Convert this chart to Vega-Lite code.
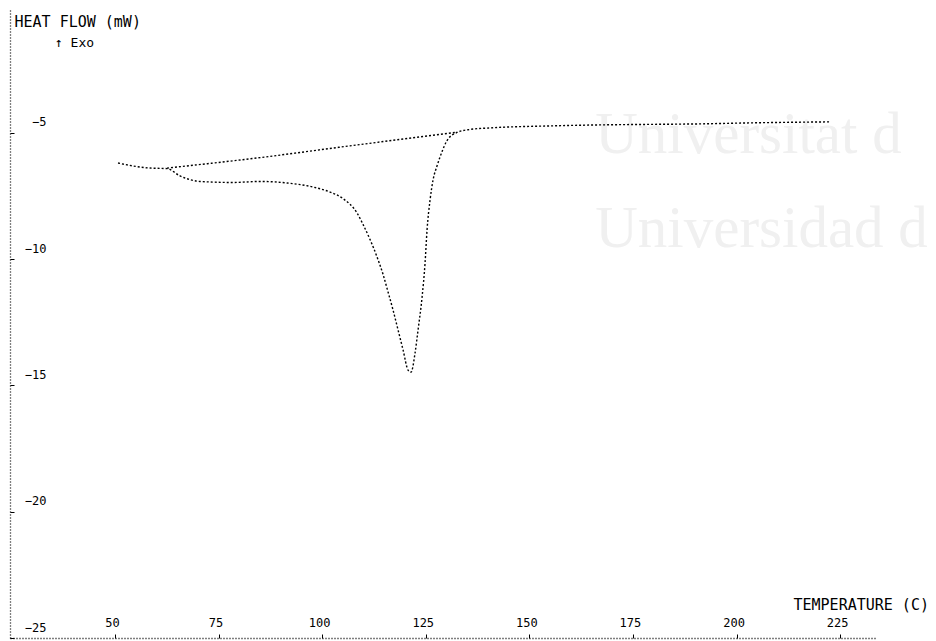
{
  "$schema": "https://vega.github.io/schema/vega-lite/v6.json",
  "width": 867,
  "height": 628,
  "autosize": {"type": "none"},
  "padding": {"left": 10, "top": 10, "right": 59, "bottom": 3},
  "background": "white",
  "config": {"view": {"stroke": null}},
  "datasets": {
    "curves": [
      {"series": "scan", "t": 50.73, "v": -6.19},
      {"series": "scan", "t": 58.45, "v": -6.39},
      {"series": "scan", "t": 62.55, "v": -6.41},
      {"series": "scan", "t": 65.69, "v": -6.7},
      {"series": "scan", "t": 70.52, "v": -6.92},
      {"series": "scan", "t": 78.49, "v": -6.96},
      {"series": "scan", "t": 84.96, "v": -6.92},
      {"series": "scan", "t": 91.52, "v": -6.98},
      {"series": "scan", "t": 97.79, "v": -7.14},
      {"series": "scan", "t": 101.9, "v": -7.34},
      {"series": "scan", "t": 105.04, "v": -7.6},
      {"series": "scan", "t": 108.42, "v": -8.17},
      {"series": "scan", "t": 109.86, "v": -8.62},
      {"series": "scan", "t": 111.55, "v": -9.22},
      {"series": "scan", "t": 113.24, "v": -9.91},
      {"series": "scan", "t": 114.69, "v": -10.6},
      {"series": "scan", "t": 115.9, "v": -11.3},
      {"series": "scan", "t": 117.1, "v": -12.01},
      {"series": "scan", "t": 118.31, "v": -12.8},
      {"series": "scan", "t": 119.52, "v": -13.59},
      {"series": "scan", "t": 120.73, "v": -14.39},
      {"series": "scan", "t": 121.45, "v": -14.47},
      {"series": "scan", "t": 122.42, "v": -13.71},
      {"series": "scan", "t": 123.14, "v": -12.8},
      {"series": "scan", "t": 124.11, "v": -11.5},
      {"series": "scan", "t": 124.83, "v": -10.15},
      {"series": "scan", "t": 125.31, "v": -8.84},
      {"series": "scan", "t": 126.04, "v": -7.65},
      {"series": "scan", "t": 126.76, "v": -6.86},
      {"series": "scan", "t": 127.73, "v": -6.3},
      {"series": "scan", "t": 128.9, "v": -5.75},
      {"series": "scan", "t": 130.13, "v": -5.3},
      {"series": "scan", "t": 132.55, "v": -4.98},
      {"series": "scan", "t": 135.7, "v": -4.86},
      {"series": "scan", "t": 140.5, "v": -4.8},
      {"series": "scan", "t": 155.0, "v": -4.72},
      {"series": "scan", "t": 167.1, "v": -4.68},
      {"series": "scan", "t": 179.1, "v": -4.66},
      {"series": "scan", "t": 191.2, "v": -4.64},
      {"series": "scan", "t": 203.3, "v": -4.6},
      {"series": "scan", "t": 222.6, "v": -4.56},
      {"series": "baseline", "t": 62.55, "v": -6.39},
      {"series": "baseline", "t": 84.3, "v": -5.99},
      {"series": "baseline", "t": 106.7, "v": -5.51},
      {"series": "baseline", "t": 132.55, "v": -4.97}
    ],
    "notes": [
      {"label": "↑  Exo", "t": 35.5, "v": -1.45}
    ],
    "watermark": [
      {"label": "Universitat d", "t": 165.9, "v": -5.79},
      {"label": "Universidad d", "t": 165.9, "v": -9.51}
    ]
  },
  "layer": [
    {
      "data": {"name": "watermark"},
      "mark": {"type": "text", "font": "Liberation Serif", "fontSize": 59, "color": "#f0f0f0", "align": "left", "baseline": "alphabetic", "clip": false},
      "encoding": {
        "x": {"field": "t", "type": "quantitative", "scale": {"domain": [24.66, 233.9], "nice": false, "zero": false}},
        "y": {"field": "v", "type": "quantitative", "scale": {"domain": [-25, -0.13], "nice": false, "zero": false}},
        "text": {"field": "label"}
      }
    },
    {
      "data": {"name": "curves"},
      "mark": {"type": "line", "color": "black", "strokeWidth": 1.4, "strokeDash": [2, 2], "interpolate": "monotone"},
      "encoding": {
        "x": {
          "field": "t", "type": "quantitative",
          "scale": {"domain": [24.66, 233.9], "nice": false, "zero": false},
          "axis": {
            "values": [50, 75, 100, 125, 150, 175, 200, 225],
            "orient": "bottom",
            "grid": false,
            "domainColor": "black",
            "domainDash": [1, 2],
            "domainWidth": 1.3,
            "ticks": true,
            "tickSize": -4,
            "tickColor": "black",
            "labelPadding": -12,
            "labelBaseline": "middle",
            "labelOffset": -3,
            "labelFont": "DejaVu Sans Mono",
            "labelFontSize": 12,
            "labelColor": "black",
            "labelFlush": false,
            "title": "TEMPERATURE  (C)",
            "titleFont": "DejaVu Sans Mono",
            "titleFontSize": 15,
            "titleFontWeight": "normal",
            "titleColor": "black",
            "titleAlign": "left",
            "titleBaseline": "middle",
            "titleX": 783,
            "titleY": -34
          }
        },
        "y": {
          "field": "v", "type": "quantitative",
          "scale": {"domain": [-25, -0.13], "nice": false, "zero": false},
          "axis": {
            "values": [-5, -10, -15, -20, -25],
            "orient": "left",
            "grid": false,
            "domainColor": "black",
            "domainDash": [1, 2],
            "domainWidth": 1.3,
            "ticks": true,
            "tickSize": -4,
            "tickColor": "black",
            "labelPadding": -32,
            "labelAlign": "right",
            "labelBaseline": "middle",
            "labelOffset": -11,
            "labelFont": "DejaVu Sans Mono",
            "labelFontSize": 12,
            "labelColor": "black",
            "labelFlush": false,
            "title": "HEAT FLOW  (mW)",
            "titleFont": "DejaVu Sans Mono",
            "titleFontSize": 15,
            "titleFontWeight": "normal",
            "titleColor": "black",
            "titleAngle": 0,
            "titleAlign": "left",
            "titleBaseline": "middle",
            "titleX": 4,
            "titleY": 11
          }
        },
        "detail": {"field": "series"}
      }
    },
    {
      "data": {"name": "notes"},
      "mark": {"type": "text", "font": "DejaVu Sans Mono", "fontSize": 13, "color": "black", "align": "left", "baseline": "middle"},
      "encoding": {
        "x": {"field": "t", "type": "quantitative"},
        "y": {"field": "v", "type": "quantitative"},
        "text": {"field": "label"}
      }
    }
  ]
}
